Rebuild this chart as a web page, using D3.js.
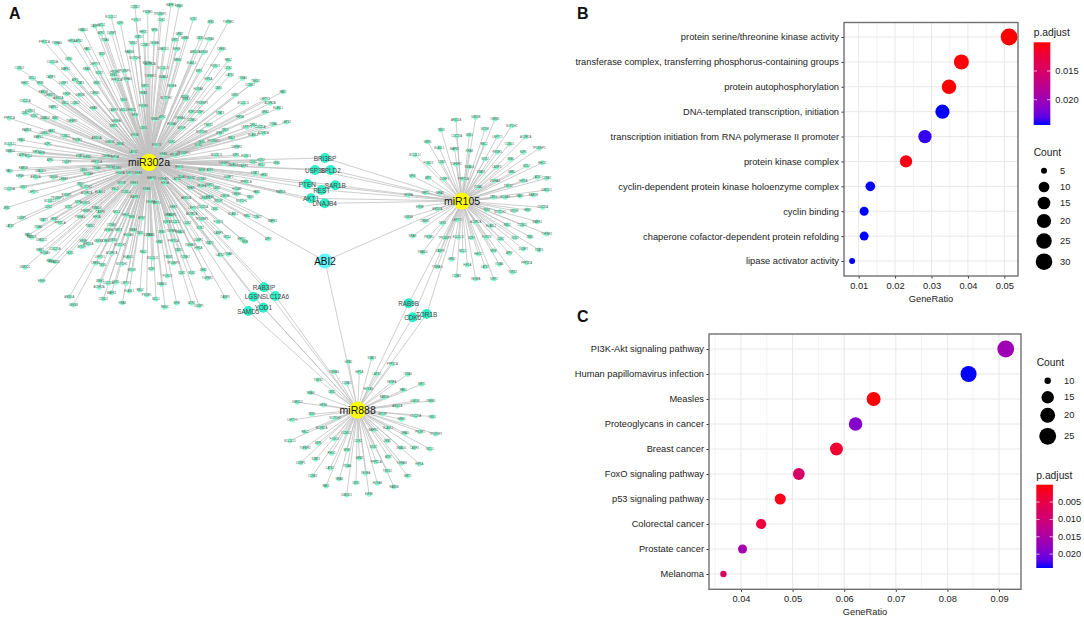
<!DOCTYPE html>
<html><head><meta charset="utf-8">
<style>html,body{margin:0;padding:0;background:#fff}svg{display:block;font-family:"Liberation Sans",Arial,sans-serif}</style>
<script src="https://cdn.jsdelivr.net/npm/d3@7/dist/d3.min.js"></script></head><body>
<svg id="c" width="1084" height="618"></svg>
<script>
// ---------- Panel B data ----------
const bTerms=["protein serine/threonine kinase activity","transferase complex, transferring phosphorus-containing groups","protein autophosphorylation","DNA-templated transcription, initiation","transcription initiation from RNA polymerase II promoter","protein kinase complex","cyclin-dependent protein kinase holoenzyme complex","cyclin binding","chaperone cofactor-dependent protein refolding","lipase activator activity"];
const bRatio=[0.0513,0.0382,0.0348,0.0330,0.0282,0.0230,0.0132,0.0115,0.0115,0.0082];
const bCount=[31,23,21,20,17,14,8,7,7,5];
const bPadj=[0.0100,0.0102,0.0100,0.0244,0.0240,0.0105,0.0244,0.0244,0.0244,0.0244];
const bXTicks=[0.01,0.02,0.03,0.04,0.05];
const bCountLegend=[5,10,15,20,25,30];
const bPadjTicks=[0.015,0.020];
// ---------- Panel C data ----------
const cTerms=["PI3K-Akt signaling pathway","Human papillomavirus infection","Measles","Proteoglycans in cancer","Breast cancer","FoxO signaling pathway","p53 signaling pathway","Colorectal cancer","Prostate cancer","Melanoma"];
const cRatio=[0.0913,0.0841,0.0657,0.0622,0.0585,0.0512,0.0476,0.0439,0.0403,0.0366];
const cCount=[25,23,18,17,16,14,13,12,11,10];
const cPadj=[0.0165,0.0240,0.0003,0.0190,0.0030,0.0085,0.0010,0.0040,0.0160,0.0080];
const cXTicks=[0.04,0.05,0.06,0.07,0.08,0.09];
const cCountLegend=[10,15,20,25];
const cPadjTicks=[0.005,0.010,0.015,0.020];
// ---------- Panel A network, layout ----------
const hubNames=["miR302a","miR105","miR888"];
const hubLayout=[[447,487],[1386,603],[1073,1230]];
const sharedNames=["BRI3BP","USP38","SPLD2","PTEN","REST","SAR1B","AKT1","DNAJB4","RAB3IP","LGSN","SLC12A6","YOD1","SAMD5","RAB9B","CDK6","TOR1B","ABI2"];
const sharedLayout=[[975,474],[945,510],[992,510],[922,552],[965,570],[1006,556],[933,595],[974,610],[792,862],[760,890],[826,888],[790,923],[745,933],[1226,910],[1238,952],[1280,942],[975,783]];
const sharedHubs=[[0,1],[0,1],[0,1],[0,1],[0,1],[0,1],[0,1],[0,1],[0,2],[0,2],[0,2],[0,2],[0,2],[1,2],[1,2],[1,2],[0,1,2]];
const leaves302aNorth=[405,20,513,14,537,18,443,37,480,42,333,50,361,70,408,60,484,60,580,57,632,65,685,65,248,90,285,78,305,75,430,95,463,90,303,100,335,100,415,110,538,102,133,125,170,130,215,122,235,122,315,120,398,130,435,135,463,130,525,120,555,115,600,115,628,118,262,148,388,155,490,147,530,148,585,155,610,157,665,147,305,163,405,175,440,190,533,180,157,187,207,177,285,193,450,192,575,188,685,181,58,205,197,207,260,207,345,215,372,213,490,205,597,213,645,198,685,205,297,218,340,225,450,228,490,232,152,230,97,235,75,250,120,250,225,240,190,250,240,250,290,248,350,240,380,238,625,238,690,225,728,235,767,243,750,255,515,257,435,258,430,278,655,265,595,268,849,275,130,275,150,285,200,282,175,295,240,285,285,280,370,300,498,295,555,290,558,298,75,302,705,285,795,298,810,310,835,325,195,310,225,310,160,322,280,325,430,318,605,308,730,310,575,335,90,332,75,340,102,347,165,355,215,362,135,355,340,330,370,330,395,330,405,345,487,352,600,337,660,338,795,337,28,355,540,355,720,350,860,367,820,373,625,375,575,360,348,362,340,378,465,357,430,383,515,372,155,393,80,390,135,400,405,405,290,413,330,425,360,432,675,390,605,395,545,385,660,400,780,380,760,375,740,382,790,400,760,405,695,413,195,408,115,410,63,420,232,420,640,422,30,433,143,432,470,435,515,425,595,435,605,425,710,440];
const leaves302aWest=[30,3,65,15,85,18,110,5,125,8,150,30,200,35,240,18,262,20,290,35,320,18,345,22,400,5,290,55,330,50,350,55,360,68,390,70,415,68,250,60,265,72,28,63,70,55,122,62,60,78,107,82,160,82,190,88,240,103,258,110,365,100,403,100,28,117,70,112,100,125,260,130,300,125,345,118,378,125,405,140,440,118,200,135,172,145,150,152,235,157,255,160,145,170,205,170,20,173,258,182,290,175,300,185,350,187,378,195,395,200,425,205,65,203,130,210,162,208,180,218,240,200,290,200,30,228,115,232,270,227,335,225,325,240,355,240,400,240,420,250,385,255,85,255,95,262,125,270,250,272,265,282,295,272,320,272,340,270,360,285,245,290,120,300,165,297,210,308,300,320,335,310,385,322,430,305,445,255];
const leaves302aEast=[5,85,40,13,75,15,100,10,200,15,258,15,288,18,310,35,333,30,380,38,222,40,250,45,280,47,335,45,88,52,155,60,180,60,235,82,315,70,342,75,288,95,40,88,45,100,80,88,95,80,122,85,155,88,155,107,180,105,122,113,200,115,260,118,320,127,392,125,165,143,180,140,108,145,225,138,260,133,300,142,275,153,205,152,70,170,158,170,195,177,130,175,125,193,250,192,292,198,320,200,368,213,55,195,65,195,155,208,75,215,50,215,205,215,112,220,150,233,35,245,65,243,90,245,205,248,232,262,275,268,285,275,355,267,145,270,178,278,28,275,70,272,120,285,145,295,210,315,235,313,55,320,105,320,2,155,20,158,2,255,85,300];
const leaves302aSouthWest=[135,8,150,32,165,35,75,52,125,93,208,140,220,165,287,40,307,45,365,42,395,60,300,93,325,100,348,97,378,100,297,112,388,123,420,120,310,147,335,128,367,158,440,135];
const leaves302aSouth=[70,40,8,25,5,57,52,78,95,68,125,68,160,60,172,85,35,103,225,142,18,147,45,172,80,160,125,160,147,167];
const leaves888=[305,55,235,65,367,72,192,95,268,97,320,102,413,103,145,120,230,130,365,127,455,133,122,158,185,155,295,147,400,150,343,172,82,187,160,195,382,198,435,183,483,182,125,223,195,235,338,222,395,238,437,228,487,230,67,240,155,263,355,263,105,275,228,278,310,270,405,280,450,275,497,282,60,302,145,310,193,297,265,303,310,320,352,303,105,323,393,323,433,323,480,327,185,340,230,330,355,350,92,368,137,358,268,355,318,365,395,370,448,372,180,385,232,377,352,393,128,407,287,400,413,408,208,417,258,428,322,430,168,438,372,440,230,465,297,463];
const leaves105North=[228,30,287,22,345,27,183,60,395,48,315,58,143,95,230,78,268,75,352,80,437,80,178,113,312,103,388,102,224,118,268,122,352,127,477,115,105,135,430,127,145,160,185,157,315,147,392,148,228,163,268,170,350,172,440,168,487,158,97,198,145,203,193,207,303,187,395,187,250,207,345,212,430,212,472,202,295,232,385,227,500,205,85,255,137,248,180,248,340,262,375,262,420,258,460,255,500,240];
const leaves105South=[120,35,172,42,85,67,135,78,320,45,360,50,403,47,443,45,488,37,188,85,232,75,287,82,333,92,382,90,427,90,472,80,98,123,147,125,195,128,235,127,275,128,320,127,362,132,405,128,450,125,500,117,128,172,180,167,248,168,295,177,340,167,388,175,430,162,477,165,215,193,440,203,172,215,262,210,315,215,358,208,398,232,230,242,287,252,342,252];
const geneLabels=["CCND2","MAPK1","KRAS","PIK3R1","TP53INP1","BCL2L11","E2F1","FOXO3","CDK2","SOX2","ZEB1","TGFBR2","SMAD4","CASP3","MCL1","RHOC","NFIB","ATF2","DUSP1","STAT3","GRB2","PPP2CA","YWHAG","HIF1A","LATS2","ITGA6","TNKS2","CCNE2","VEGFA","SIRT1","NRAS","CBX5","HOXA9","PAK1","RAB5B","UBE2D1","EIF4E","ARID1A","GSK3B","CREB1","TBX3","NOTCH2","MTOR","WEE1","CDC25A","DKK1","LEFTY1","ACVR2A","ELAVL1","RBL2"];

const svg=d3.select("#c");
const FS=9.3, TXT="#222";
// ---------- Network ----------
const xNet=d3.scaleLinear([0,900],[0,300]), yNet=d3.scaleLinear([0,600],[0,200]);
const leafGroups=[[leaves302aNorth,0,[0,0]],[leaves302aWest,0,[0,450]],[leaves302aEast,0,[450,450]],[leaves302aSouthWest,0,[0,750]],[leaves302aSouth,0,[450,750]],[leaves888,2,[810,1020]],[leaves105North,1,[1140,330]],[leaves105South,1,[1140,585]]];
const leaves=[];
leafGroups.forEach(([arr,hub,o])=>{for(let i=0;i<arr.length;i+=2)leaves.push({x:arr[i]+o[0],y:arr[i+1]+o[1],hub});});
leaves.forEach((d,i)=>d.name=geneLabels[i%geneLabels.length]);
const links=leaves.map(d=>({a:hubLayout[d.hub],b:[d.x,d.y]}));
sharedLayout.forEach((p,i)=>sharedHubs[i].forEach(h=>links.push({a:hubLayout[h],b:p})));
const A=svg.append("g");
A.append("g").selectAll("line").data(links).join("line")
 .attr("x1",d=>xNet(d.a[0])).attr("y1",d=>yNet(d.a[1])).attr("x2",d=>xNet(d.b[0])).attr("y2",d=>yNet(d.b[1]))
 .attr("stroke","#c2c2c2").attr("stroke-width",0.8);
A.append("g").selectAll("circle").data(leaves).join("circle")
 .attr("cx",d=>xNet(d.x)).attr("cy",d=>yNet(d.y)).attr("r",2.5).attr("fill","#84fcd0");
A.append("g").selectAll("text").data(leaves).join("text")
 .attr("x",d=>xNet(d.x)).attr("y",d=>yNet(d.y)).attr("text-anchor","middle").attr("dominant-baseline","central")
 .attr("font-size",2.8).attr("fill","#555").text(d=>d.name);
A.append("g").selectAll("circle").data(sharedLayout).join("circle")
 .attr("cx",d=>xNet(d[0])).attr("cy",d=>yNet(d[1])).attr("r",(d,i)=>i==16?7.5:5)
 .attr("fill",(d,i)=>i==16?"#62f4fb":"#2cf0c8");
A.append("g").selectAll("text").data(sharedLayout).join("text")
 .attr("x",d=>xNet(d[0])).attr("y",d=>yNet(d[1])).attr("text-anchor","middle").attr("dominant-baseline","central")
 .attr("font-size",(d,i)=>i==16?10:6.4).attr("fill",(d,i)=>i==16?"#111":"#444").text((d,i)=>sharedNames[i]);
A.append("g").selectAll("circle").data(hubLayout).join("circle")
 .attr("cx",d=>xNet(d[0])).attr("cy",d=>yNet(d[1])).attr("r",8.6).attr("fill","#ffff00");
A.append("g").selectAll("text").data(hubLayout).join("text")
 .attr("x",d=>xNet(d[0])).attr("y",d=>yNet(d[1])).attr("text-anchor","middle").attr("dominant-baseline","central")
 .attr("font-size",10.5).attr("fill","#111").text((d,i)=>hubNames[i]);
// panel letters
[["A",9,19],["B",577,19],["C",577,322]].forEach(([t,x,y])=>svg.append("text").attr("x",x).attr("y",y).attr("font-size",16).attr("font-weight","bold").attr("fill","#111").text(t));

// ---------- Dot plots ----------
function dotplot(o){
 const g=svg.append("g");
 const x=d3.scaleLinear(o.xDomain,[o.left,o.right]);
 const y=d3.scalePoint(o.terms,[o.firstY,o.lastY]);
 const r=d3.scaleSqrt(o.sizeDomain.map(c=>c-o.sizeDomain[0]),o.sizeRange);
 const size=c=>r(c-o.sizeDomain[0]);
 const col=d3.scaleLinear(o.padjDomain,["red","blue"]).interpolate(d3.interpolateLab);
 const minor=o.xTicks.map(v=>v+0.005).concat([o.xTicks[0]-0.005]).filter(v=>v>o.xDomain[0]&&v<o.xDomain[1]);
 g.append("g").selectAll("line").data(minor).join("line").attr("x1",x).attr("x2",x).attr("y1",o.top).attr("y2",o.bottom).attr("stroke","#efefef").attr("stroke-width",0.8);
 g.append("g").selectAll("line").data(o.xTicks).join("line").attr("x1",x).attr("x2",x).attr("y1",o.top).attr("y2",o.bottom).attr("stroke","#e8e8e8").attr("stroke-width",1);
 g.append("g").selectAll("line").data(o.terms).join("line").attr("x1",o.left).attr("x2",o.right).attr("y1",y).attr("y2",y).attr("stroke","#e8e8e8").attr("stroke-width",1);
 g.append("g").selectAll("circle").data(o.terms).join("circle").attr("cx",(d,i)=>x(o.ratio[i])).attr("cy",d=>y(d)).attr("r",(d,i)=>size(o.count[i])).attr("fill",(d,i)=>col(o.padj[i]));
 const xa=g.append("g").attr("transform",`translate(0,${o.bottom})`).call(d3.axisBottom(x).tickValues(o.xTicks).tickFormat(d3.format(".2f")).tickSize(2.5).tickPadding(3.5));
 const ya=g.append("g").attr("transform",`translate(${o.left},0)`).call(d3.axisLeft(y).tickSize(2.5).tickPadding(2.5));
 [xa,ya].forEach(a=>{a.select(".domain").remove();a.selectAll("line").attr("stroke","#333");a.selectAll("text").attr("font-size",FS).attr("font-family","'Liberation Sans',Arial,sans-serif").attr("fill",TXT);});
 g.append("rect").attr("x",o.left).attr("y",o.top).attr("width",o.right-o.left).attr("height",o.bottom-o.top).attr("fill","none").attr("stroke","#707070").attr("stroke-width",1.4);
 g.append("text").attr("x",(o.left+o.right)/2).attr("y",o.bottom+26).attr("text-anchor","middle").attr("font-size",FS).attr("fill",TXT).text("GeneRatio");
 const cb=o.colorbar, id="grad"+o.id;
 const lg=svg.append("defs").append("linearGradient").attr("id",id).attr("x1",0).attr("x2",0).attr("y1",0).attr("y2",1);
 d3.range(0,1.0001,0.1).forEach(t=>lg.append("stop").attr("offset",t).attr("stop-color",col(o.padjDomain[0]+t*(o.padjDomain[1]-o.padjDomain[0]))));
 g.append("rect").attr("x",cb.x).attr("y",cb.y0).attr("width",cb.w).attr("height",cb.y1-cb.y0).attr("fill",`url(#${id})`);
 const cy=d3.scaleLinear(o.padjDomain,[cb.y0,cb.y1]);
 o.padjTicks.forEach(t=>{
  [[cb.x,cb.x+3.3],[cb.x+cb.w-3.3,cb.x+cb.w]].forEach(s=>g.append("line").attr("x1",s[0]).attr("x2",s[1]).attr("y1",cy(t)).attr("y2",cy(t)).attr("stroke","#fff").attr("stroke-width",0.7));
  g.append("text").attr("x",cb.x+cb.w+5).attr("y",cy(t)).attr("dominant-baseline","central").attr("font-size",FS).attr("fill",TXT).text(d3.format(".3f")(t));
 });
 g.append("text").attr("x",cb.x).attr("y",cb.titleY).attr("font-size",10.3).attr("fill",TXT).text("p.adjust");
 const sl=o.sizeLegend;
 g.append("text").attr("x",sl.titleX).attr("y",sl.titleY).attr("font-size",10.3).attr("fill",TXT).text("Count");
 const ly=d3.scaleOrdinal(o.countLegend,sl.ys);
 g.append("g").selectAll("circle").data(o.countLegend).join("circle").attr("cx",sl.x).attr("cy",ly).attr("r",size).attr("fill","#000");
 g.append("g").selectAll("text").data(o.countLegend).join("text").attr("x",sl.labelX).attr("y",ly).attr("dominant-baseline","central").attr("font-size",FS).attr("fill",TXT).text(d=>d);
}
dotplot({id:"B",terms:bTerms,ratio:bRatio,count:bCount,padj:bPadj,xTicks:bXTicks,countLegend:bCountLegend,padjTicks:bPadjTicks,
 left:844,right:1018,top:22.5,bottom:276,firstY:37,lastY:261,xDomain:[0.00597,0.05375],sizeDomain:[5,31],sizeRange:[3,8.4],padjDomain:[0.0100,0.0244],
 colorbar:{x:1033.7,w:16.6,y0:42.3,y1:125,titleY:36},
 sizeLegend:{titleX:1033.7,titleY:156,x:1044,labelX:1060,ys:[170.7,187,203,221,241,261.7]}});
dotplot({id:"C",terms:cTerms,ratio:cRatio,count:cCount,padj:cPadj,xTicks:cXTicks,countLegend:cCountLegend,padjTicks:cPadjTicks,
 left:709,right:1021,top:334,bottom:589.3,firstY:349,lastY:574,xDomain:[0.0338,0.09426],sizeDomain:[10,25],sizeRange:[3.2,8.4],padjDomain:[0,0.0240],
 colorbar:{x:1036.3,w:16.6,y0:484.7,y1:568,titleY:479},
 sizeLegend:{titleX:1036.7,titleY:366,x:1047.7,labelX:1064,ys:[380.7,397.3,415.3,436.3]}});
</script></body></html>
